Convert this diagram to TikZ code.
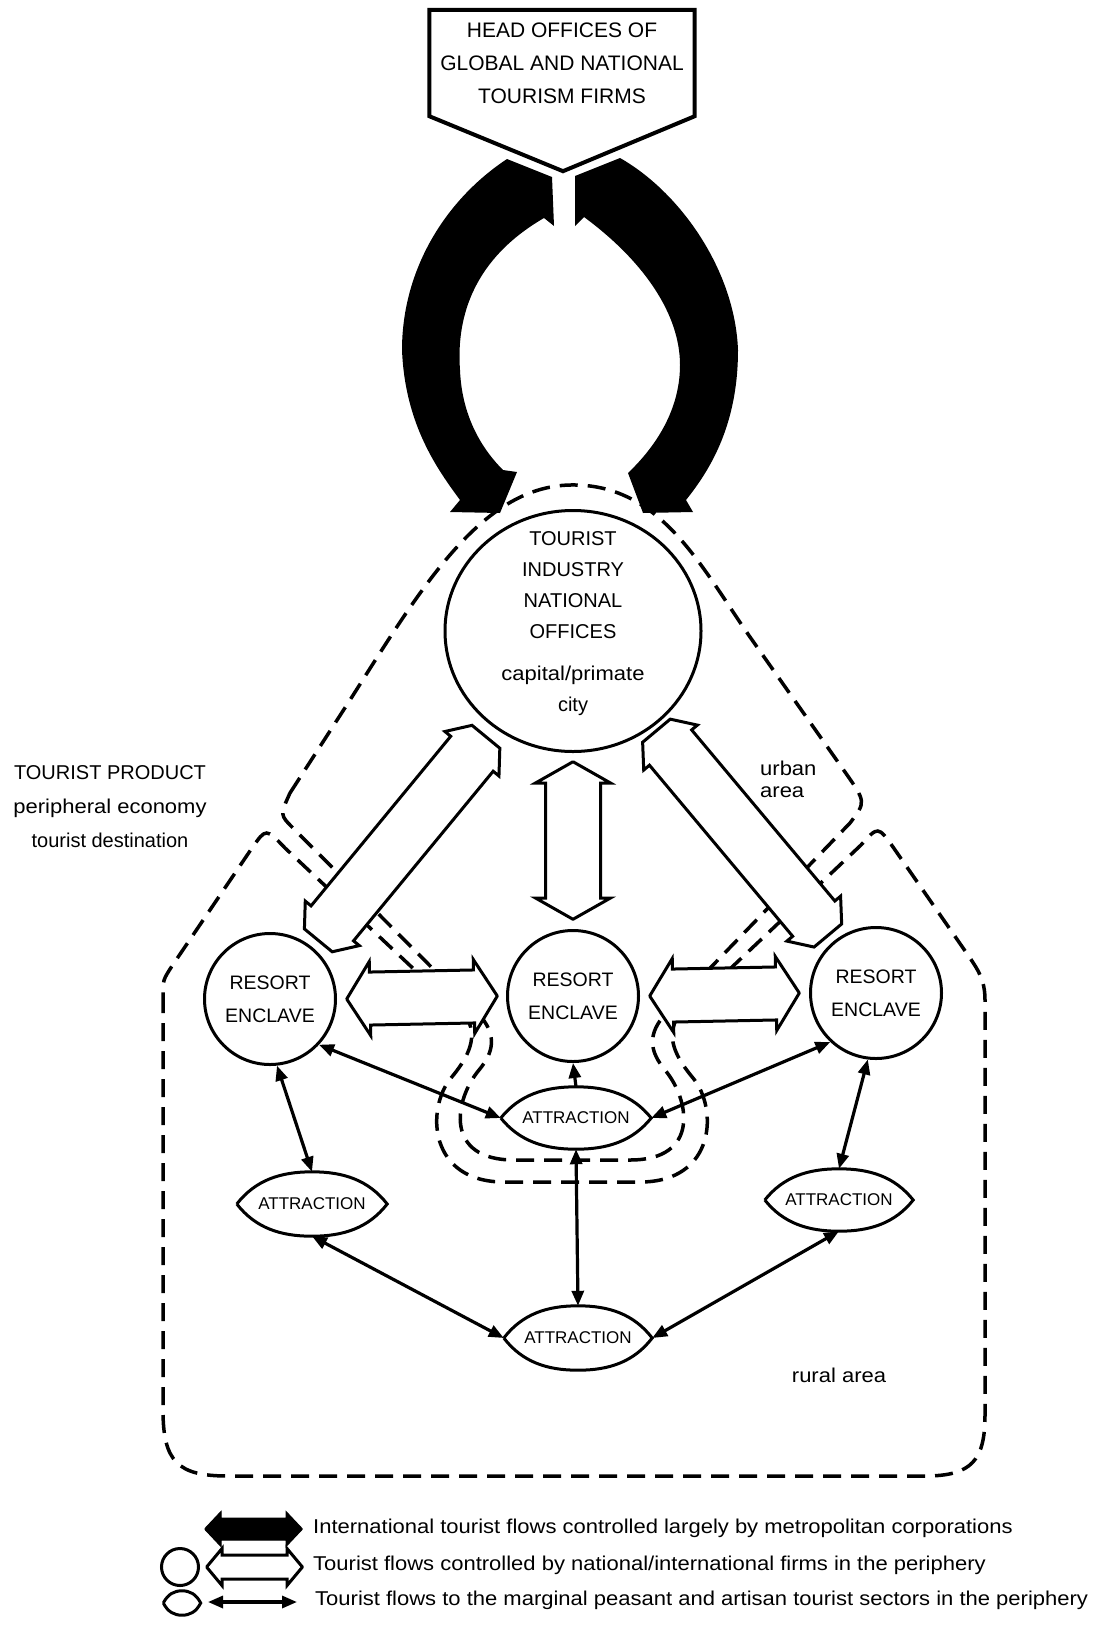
\documentclass[tikz,border=0pt]{standalone}
\usepackage{fontspec}
\setmainfont{Liberation Sans}
\newfontfamily\widesans{Liberation Sans}[FakeStretch=1.1]
\usetikzlibrary{calc,arrows.meta,shapes.geometric,backgrounds}
\tikzset{
  headbox/.style={inner sep=0pt, minimum width=265pt, minimum height=106pt, align=center, font=\fontsize{21}{33}\selectfont},
  outline/.style={line width=4pt, line join=miter},
  cityoval/.style={ellipse, draw, line width=3pt, fill=white, inner sep=0pt, minimum width=256pt, minimum height=241pt},
  citytext/.style={align=center, inner sep=0pt, font=\fontsize{20}{31}\selectfont},
  resort/.style={circle, draw, line width=3pt, fill=white, inner sep=0pt, minimum size=131pt, align=center, font=\fontsize{19.5}{33}\selectfont},
  attr/.style={inner sep=0pt},
  lensline/.style={line width=3pt, fill=white, line join=miter},
  attrtext/.style={inner sep=0pt, font=\fontsize{17}{20}\selectfont},
  zone/.style={line width=3.5pt, dash pattern=on 18pt off 10pt},
  whiteflow/.style={line width=3pt, fill=white, line join=miter},
  blackflow/.style={line width=1pt, draw=black, fill=black, line join=miter},
  thinflow/.style={line width=3.2pt, {Triangle[length=15pt,width=12pt]}-{Triangle[length=15pt,width=12pt]}},
  onehead/.style={line width=3.2pt, -{Triangle[length=15pt,width=12pt]}},
  areatext/.style={inner sep=0pt, font=\widesans\fontsize{20}{22}\selectfont},
  legtext/.style={anchor=west, inner sep=0pt, font=\widesans\fontsize{20}{24}\selectfont},
}
% fat double-headed flow: [style]{from}{to}{shaft half}{head half}{head length}{tip half}
\newcommand{\fatflow}[7][whiteflow]{%
  \coordinate (ffA) at ($(#2)!#6!(#3)$);
  \coordinate (ffB) at ($(#3)!#6!(#2)$);
  \draw[#1] ($(#2)!#7!90:(#3)$) -- ($(ffA)!#5!90:(#3)$) -- ($(ffA)!#4!90:(#3)$)
    -- ($(ffB)!#4!-90:(#2)$) -- ($(ffB)!#5!-90:(#2)$) -- ($(#3)!#7!-90:(#2)$)
    -- ($(#3)!#7!90:(#2)$) -- ($(ffB)!#5!90:(#2)$) -- ($(ffB)!#4!90:(#2)$)
    -- ($(ffA)!#4!-90:(#3)$) -- ($(ffA)!#5!-90:(#3)$) -- ($(#2)!#7!-90:(#3)$) -- cycle;
}
% lens shaped attraction: {name}{at}{text}{half width}{half height}
\newcommand{\attraction}[5]{%
  \node[attr, minimum width=2*#4pt, minimum height=2*#5pt] (#1) at (#2) {};
  \filldraw[lensline] (#1.west) .. controls +({0.25*#4},{-0.75*#5}) and +({-0.42*#4},0) .. (#1.north)
    .. controls +({0.42*#4},0) and +({-0.25*#4},{-0.75*#5}) .. (#1.east)
    .. controls +({-0.25*#4},{0.75*#5}) and +({0.42*#4},0) .. (#1.south)
    .. controls +({-0.42*#4},0) and +({0.25*#4},{0.75*#5}) .. (#1.west);
  \node[attrtext] at (#1) {#3};
}

\begin{document}
\begin{tikzpicture}[x=1pt, y=-1pt]
  \useasboundingbox (0,0) rectangle (1100,1636);

  % --- Top: head offices ---
  \node[headbox] (head) at (562,63) {HEAD OFFICES OF\\GLOBAL AND NATIONAL\\TOURISM FIRMS};
  \draw[outline] (head.north west) -- (head.north east) -- (head.south east)
    -- ($(head.south)+(1,55)$) -- (head.south west) -- cycle;

  % --- Capital / primate city ---
  \node[cityoval] (tio) at (573,631) {};
  \node[citytext] at (573,624) {TOURIST\\INDUSTRY\\NATIONAL\\OFFICES\\[11pt]\widesans capital/primate\\city};

  % --- Resort enclaves ---
  \node[resort] (resL) at (270,999) {RESORT\\ENCLAVE};
  \node[resort] (resC) at (573,996) {RESORT\\ENCLAVE};
  \node[resort] (resR) at (876,993) {RESORT\\ENCLAVE};

  % --- Attractions ---
  \attraction{attC}{576,1118}{ATTRACTION}{75}{31}
  \attraction{attL}{312,1204}{ATTRACTION}{75}{32}
  \attraction{attR}{839,1200}{ATTRACTION}{74}{31}
  \attraction{attB}{578,1338}{ATTRACTION}{74}{32}

  % --- Urban and rural area boundaries ---
  \begin{scope}[on background layer]
    \draw[zone] (290,793) -- (350,700)
      .. controls (420,590) and (480,487) .. (570,485)
      .. controls (660,483) and (700,565) .. (750,637)
      -- (845,772) .. controls (866,802) .. (850,823)
      -- (662,1018) .. controls (648,1036) and (650,1052) .. (665,1070)
      .. controls (690,1100) and (700,1160) .. (630,1160)
      -- (514,1160) .. controls (444,1160) and (454,1100) .. (479,1070)
      .. controls (494,1052) and (496,1036) .. (482,1018)
      -- (293,828) .. controls (280,815) .. (290,793);
    \draw[zone] (163,995) -- (163,1410)
      .. controls (163,1462) and (178,1476) .. (228,1476)
      -- (925,1476) .. controls (972,1476) and (985,1460) .. (985,1415)
      -- (985,1000) .. controls (985,980) and (978,970) .. (970,958)
      -- (893,847) .. controls (878,826) .. (861,845)
      -- (676,1020) .. controls (666,1040) and (678,1060) .. (693,1078)
      .. controls (718,1108) and (716,1182) .. (640,1182)
      -- (504,1182) .. controls (428,1182) and (426,1108) .. (451,1078)
      .. controls (466,1060) and (478,1040) .. (468,1020)
      -- (285,848) .. controls (266,828) .. (252,848)
      -- (172,966) .. controls (163,980) .. (163,995);
  \end{scope}

  % --- International flows (black) ---
  \fill (507,159) -- (552,177) -- (554,226) -- (544,218)
    .. controls (475,258) and (456,315) .. (460,370)
    .. controls (462,420) and (485,452) .. (503,470)
    -- (517,472) -- (500,513) -- (450,512) -- (460,500)
    .. controls (438,470) and (405,425) .. (402,350)
    .. controls (402,270) and (445,200) .. (507,159) -- cycle;
  \fill (620,158) -- (575,176) -- (575,226) -- (584,217)
    .. controls (645,262) and (680,315) .. (680,365)
    .. controls (680,415) and (650,452) .. (628,473)
    -- (643,513) -- (693,512) -- (686,500)
    .. controls (710,470) and (738,425) .. (738,350)
    .. controls (735,270) and (680,192) .. (620,158) -- cycle;

  % --- Flows of national/international firms (hollow) ---
  \coordinate (dl1) at ($(resL)!76pt!(tio)$);
  \coordinate (dl2) at ($(tio)!137pt!(resL)$);
  \coordinate (dr1) at ($(resR)!75pt!(tio)$);
  \coordinate (dr2) at ($(tio)!130pt!(resR)$);
  \coordinate (v1) at ($(tio.south)+(0,9)$);
  \coordinate (v2) at ($(resC.north)+(0,-10)$);
  \coordinate (hl1) at ($(resL.east)+(10,0)$);
  \coordinate (hl2) at ($(resC.west)+(-9,0)$);
  \coordinate (hr1) at ($(resC.east)+(10,0)$);
  \coordinate (hr2) at ($(resR.west)+(-10,0)$);
  \fatflow{dl1}{dl2}{27.5pt}{35pt}{22pt}{18pt}
  \fatflow{dr1}{dr2}{27.5pt}{35pt}{22pt}{18pt}
  \fatflow{v1}{v2}{27.5pt}{37.5pt}{21pt}{0.5pt}
  \fatflow{hl1}{hl2}{26.5pt}{37pt}{23pt}{0.5pt}
  \fatflow{hr1}{hr2}{26.5pt}{37pt}{23pt}{0.5pt}

  % --- Flows to peasant and artisan sectors ---
  \draw[thinflow] (resL.-84) -- (attL.north);
  \draw[thinflow] (resL.-43) -- (attC.west);
  \draw[onehead] (attC.north) -- (resC.south);
  \draw[thinflow] (resR.-133) -- (attC.east);
  \draw[thinflow] (resR.-97) -- (attR.north);
  \draw[thinflow] (attC.south) -- (attB.north);
  \draw[thinflow] (attL.south) -- (attB.west);
  \draw[thinflow] (attR.south) -- (attB.east);

  % --- Area labels ---
  \node[align=center, inner sep=0pt, font=\fontsize{20}{34}\selectfont] (product) at (110,807)
    {TOURIST PRODUCT\\\widesans peripheral economy\\tourist destination};
  \node[areatext, anchor=west, align=left] (urban) at (760,779) {urban\\area};
  \node[areatext] (rural) at (839,1375) {rural area};

  % --- Legend ---
  \coordinate (kb1) at (205,1529);
  \coordinate (kb2) at (302,1529);
  \fatflow[blackflow]{kb1}{kb2}{11pt}{17.5pt}{16pt}{0.5pt}
  \node[legtext] at (313,1528) {International tourist flows controlled largely by metropolitan corporations};
  \node[circle, draw, line width=3pt, inner sep=0pt, minimum size=37pt] (legRes) at (180,1567) {};
  \coordinate (kw1) at (207,1567);
  \coordinate (kw2) at (302,1567);
  \fatflow{kw1}{kw2}{12pt}{18.5pt}{15pt}{0.5pt}
  \node[legtext] at (313,1565) {Tourist flows controlled by national/international firms in the periphery};
  \attraction{legAtt}{182,1603}{}{18.5}{12}
  \coordinate (kt1) at (208,1602);
  \coordinate (kt2) at (297,1602);
  \draw[thinflow] (kt1) -- (kt2);
  \node[legtext] at (315,1600) {Tourist flows to the marginal peasant and artisan tourist sectors in the periphery};
\end{tikzpicture}
\end{document}
